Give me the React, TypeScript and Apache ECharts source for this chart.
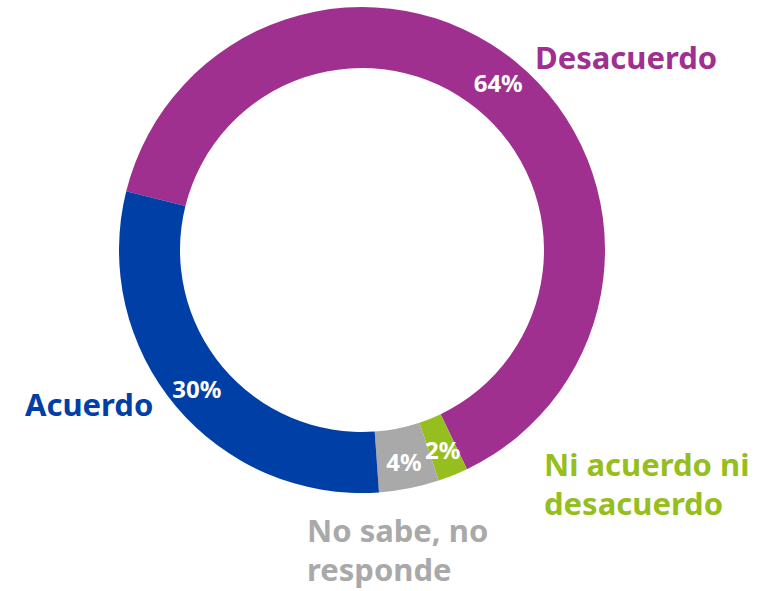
import React, { useEffect, useRef } from "react";
import * as echarts from "echarts";

const categories = ["Desacuerdo", "Ni acuerdo ni\ndesacuerdo", "No sabe, no\nresponde", "Acuerdo"];
const values = [64, 2, 4, 30];
const colors = ["#A0308F", "#96BE1E", "#A9A9A9", "#003FA5"];
const labelAnchors = [
  [535, 57],
  [544, 483],
  [307, 549],
  [25, 404],
];

export default function App() {
  const ref = useRef<HTMLDivElement>(null);
  useEffect(() => {
    const chart = echarts.init(ref.current!, null, { renderer: "svg" });
    const font = "'Noto Sans', sans-serif";
    const data = categories.map((name, i) => ({
      name,
      value: values[i],
      itemStyle: { color: colors[i] },
    }));
    chart.setOption({
      animation: false,
      backgroundColor: "#ffffff",
      series: [
        {
          type: "pie",
          center: [362, 250],
          radius: [182, 243],
          startAngle: 166,
          clockwise: true,
          silent: true,
          label: {
            show: true,
            position: "inside",
            formatter: "{c}%",
            color: "#ffffff",
            fontFamily: font,
            fontWeight: "bold",
            fontSize: 24,
          },
          labelLine: { show: false },
          data,
        },
        {
          type: "pie",
          center: [362, 250],
          radius: [182, 243],
          startAngle: 166,
          clockwise: true,
          silent: true,
          itemStyle: { color: "transparent" },
          label: {
            show: true,
            position: "outside",
            formatter: "{b}",
            fontFamily: font,
            fontWeight: "bold",
            fontSize: 31,
            lineHeight: 39,
            align: "left",
            overflow: "none",
          },
          labelLine: { show: false },
          labelLayout: (params: any) => {
            const a = labelAnchors[params.dataIndex];
            return { x: a[0], y: a[1], align: "left", verticalAlign: "middle" };
          },
          data: categories.map((name, i) => ({
            name,
            value: values[i],
            itemStyle: { color: "transparent" },
            label: { color: colors[i] },
          })),
        },
      ],
    });
    return () => chart.dispose();
  }, []);
  return (
    <div
      ref={ref}
      style={{ position: "fixed", left: 0, top: 0, width: 767, height: 591 }}
    />
  );
}
